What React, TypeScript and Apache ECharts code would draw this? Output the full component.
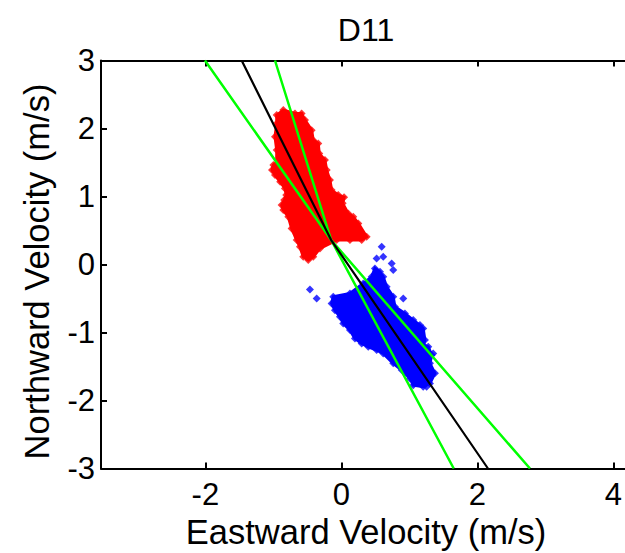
import React, { useEffect, useRef } from "react";
import * as echarts from "echarts";

const FONT = "'Liberation Sans', Arial, Helvetica, sans-serif";

const xTicks = [-2, 0, 2, 4];
const yTicks = [-3, -2, -1, 0, 1, 2, 3];

// Red (flood) cloud outline
const redX = [-0.951, -0.854, -0.682, -0.584, -0.535, -0.437, -0.413, -0.34, -0.325, -0.241, -0.216, -0.168, -0.143, -0.046, 0.04, 0.02, 0.101, 0.175, 0.249, 0.372, 0.299, 0.126, -0.069, -0.315, -0.413, -0.487, -0.56, -0.609, -0.657, -0.731, -0.78, -0.854, -0.878, -0.84, -0.81, -0.83, -0.9, -0.976, -1.02, -1.0, -0.951, -0.951, -0.976, -0.951];
const redY = [2.197, 2.271, 2.222, 2.222, 2.124, 1.976, 1.829, 1.781, 1.634, 1.535, 1.388, 1.241, 1.094, 1.021, 0.99, 0.899, 0.751, 0.701, 0.604, 0.407, 0.359, 0.359, 0.359, 0.237, 0.113, 0.065, 0.113, 0.26, 0.359, 0.531, 0.701, 0.8, 0.874, 0.947, 1.021, 1.119, 1.216, 1.315, 1.388, 1.462, 1.487, 1.682, 1.878, 2.075];

// Blue (ebb) cloud outline
const blueX = [-0.119, 0.126, 0.322, 0.446, 0.494, 0.568, 0.616, 0.666, 0.763, 0.788, 0.935, 1.057, 1.156, 1.204, 1.229, 1.204, 1.278, 1.328, 1.303, 1.376, 1.303, 1.204, 1.057, 1.009, 0.887, 0.763, 0.616, 0.519, 0.396, 0.299, 0.2, 0.126, 0.028, -0.021, -0.094, -0.143];
const blueY = [-0.475, -0.425, -0.278, -0.181, -0.057, -0.107, -0.181, -0.328, -0.475, -0.622, -0.719, -0.818, -0.891, -0.94, -1.112, -1.185, -1.21, -1.332, -1.454, -1.601, -1.749, -1.798, -1.774, -1.675, -1.553, -1.454, -1.307, -1.259, -1.21, -1.16, -1.087, -0.965, -0.866, -0.769, -0.671, -0.572];

// Blue scattered points
const blueOutX = [0.593, 0.519, 0.616, 0.74, 0.763, -0.462, -0.363, 0.91, 1.351, 1.254];
const blueOutY = [0.261, 0.09, 0.113, 0.016, -0.082, -0.366, -0.499, -0.499, -1.307, -1.798];

// Axis lines (green, black, green): top end at y = 3, common vertex, bottom end at y = -3
const lineTopX = [-2.006, -1.466, -0.976];
const lineTopY = [3, 3, 3];
const lineMidX = [-0.15, -0.15, -0.15];
const lineMidY = [0.36, 0.36, 0.36];
const lineBotX = [2.774, 2.156, 1.653];
const lineBotY = [-3, -3, -3];
const lineColors = ["#00ff00", "#000000", "#00ff00"];

function cloudSeries(xs: number[], ys: number[], color: string) {
  return {
    type: "custom",
    data: xs.map((x, i) => [x, ys[i]]),
    encode: { x: 0, y: 1 },
    silent: true,
    z: 2,
    renderItem: (params: any, api: any) => {
      if (params.dataIndex !== 0) return null;
      const pts = xs.map((x, i) => api.coord([x, ys[i]]));
      return {
        type: "polygon",
        shape: { points: pts },
        style: { fill: color, stroke: color, lineWidth: 3 },
      };
    },
  };
}

function scatterSeries(xs: number[], ys: number[], color: string) {
  return {
    type: "scatter",
    data: xs.map((x, i) => [x, ys[i]]),
    symbol: "diamond",
    symbolSize: 8,
    itemStyle: { color },
    silent: true,
    z: 3,
  };
}

export default function App() {
  const ref = useRef<HTMLDivElement>(null);
  useEffect(() => {
    if (!ref.current) return;
    const chart = echarts.init(ref.current, null, { renderer: "svg" });
    const lineSeries: any[] = [];
    for (let i = 0; i < 3; i++) {
      lineSeries.push({
        type: "line",
        data: [
          [lineTopX[i], lineTopY[i]],
          [lineMidX[i], lineMidY[i]],
          [lineBotX[i], lineBotY[i]],
        ],
        showSymbol: false,
        symbol: "none",
        lineStyle: { color: lineColors[i], width: i === 1 ? 2.2 : 2.5 },
        silent: true,
        z: i === 1 ? 6 : 5,
      });
    }
    const axisCommon = {
      type: "value",
      axisLine: { show: true, onZero: false, lineStyle: { color: "#000", width: 2 } },
      splitLine: { show: false },
    };
    chart.setOption({
      animation: false,
      backgroundColor: "#fff",
      grid: {
        left: 101,
        top: 60.5,
        width: 530,
        height: 408,
        containLabel: false,
        outerBoundsMode: "none",
      },
      graphic: [
        {
          type: "text",
          x: 366,
          y: 30,
          style: {
            text: "D11",
            fill: "#000",
            font: `32px ${FONT}`,
            align: "center",
            verticalAlign: "middle",
          },
        },
      ],
      xAxis: [
        {
          ...axisCommon,
          position: "bottom",
          min: -3.535,
          max: 4.26,
          axisTick: { show: true, inside: true, length: 6, customValues: xTicks, lineStyle: { color: "#000", width: 2 } },
          axisLabel: { show: true, customValues: xTicks, color: "#000", fontSize: 31, fontFamily: FONT, margin: 10 },
          name: "Eastward Velocity (m/s)",
          nameLocation: "middle",
          nameGap: 45,
          nameTextStyle: { color: "#000", fontSize: 34.5, fontFamily: FONT },
        },
        {
          ...axisCommon,
          position: "top",
          min: -3.535,
          max: 4.26,
          axisTick: { show: true, inside: true, length: 6, customValues: xTicks, lineStyle: { color: "#000", width: 2 } },
          axisLabel: { show: false },
        },
      ],
      yAxis: [
        {
          ...axisCommon,
          position: "left",
          min: -3,
          max: 3,
          axisTick: { show: true, inside: true, length: 6, customValues: yTicks, lineStyle: { color: "#000", width: 2 } },
          axisLabel: { show: true, customValues: yTicks, color: "#000", fontSize: 31, fontFamily: FONT, margin: 6 },
          name: "Northward Velocity (m/s)",
          nameLocation: "middle",
          nameGap: 47,
          nameTextStyle: { color: "#000", fontSize: 34.5, fontFamily: FONT, padding: [0, 0, 0, -14] },
        },
        {
          ...axisCommon,
          position: "right",
          min: -3,
          max: 3,
          axisTick: { show: true, inside: true, length: 6, customValues: yTicks, lineStyle: { color: "#000", width: 2 } },
          axisLabel: { show: false },
        },
      ],
      series: [
        cloudSeries(redX, redY, "#ff0000"),
        scatterSeries(redX, redY, "#ff0000"),
        cloudSeries(blueX, blueY, "#0000ff"),
        scatterSeries(blueX, blueY, "#0000ff"),
        scatterSeries(blueOutX, blueOutY, "#0000ff"),
        ...lineSeries,
      ],
    });
    return () => chart.dispose();
  }, []);
  return (
    <div
      ref={ref}
      style={{ position: "absolute", left: 0, top: 0, width: 625, height: 553 }}
    />
  );
}
